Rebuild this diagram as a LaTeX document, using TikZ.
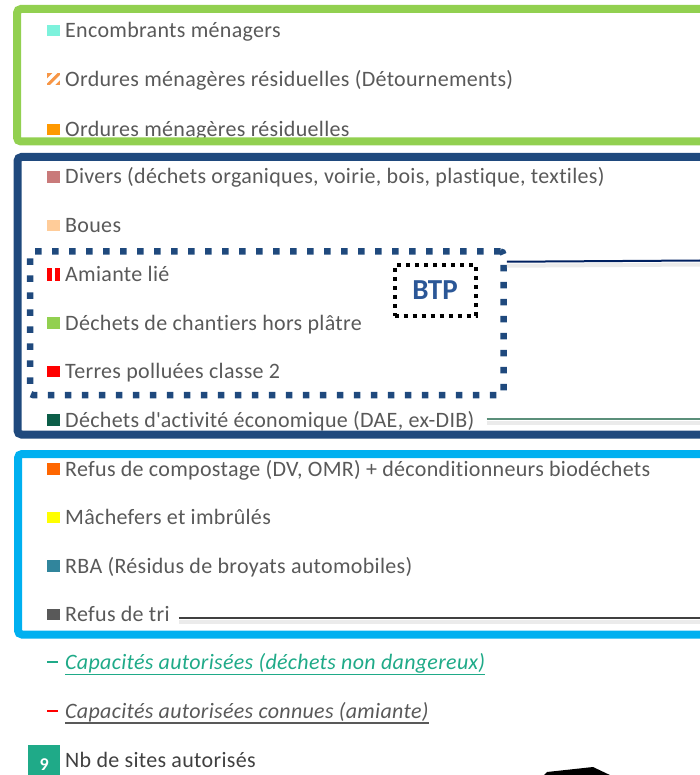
\documentclass[tikz,border=0pt]{standalone}
\usepackage{fontspec}
\setmainfont{Carlito}
\newfontfamily\itemfont[LetterSpace=1.4, Ligatures={NoCommon}]{Carlito}
\usetikzlibrary{positioning, arrows.meta}

\definecolor{txtgray}{HTML}{595959}
\definecolor{greenbox}{HTML}{92D050}
\definecolor{darkbox}{HTML}{1F497D}
\definecolor{cyanbox}{HTML}{00B0F0}
\definecolor{encomb}{HTML}{7DF2DC}
\definecolor{ordhatch}{HTML}{F79646}
\definecolor{ordure}{HTML}{FF9900}
\definecolor{divers}{HTML}{C97A7A}
\definecolor{boues}{HTML}{FFCC99}
\definecolor{chantier}{HTML}{92D050}
\definecolor{rouge}{HTML}{FF0000}
\definecolor{dae}{HTML}{0C5E48}
\definecolor{compost}{HTML}{FF6600}
\definecolor{machefer}{HTML}{FFFF00}
\definecolor{rba}{HTML}{31859C}
\definecolor{refus}{HTML}{595959}
\definecolor{navy}{HTML}{002060}
\definecolor{daeline}{HTML}{5B8F7A}
\definecolor{capgreen}{HTML}{1FAA88}
\definecolor{btpblue}{HTML}{2B5797}

\begin{document}
\begin{tikzpicture}[x=1pt, y=-1pt,
    item/.style={anchor=base west, inner sep=0pt, text=txtgray, font=\itemfont\fontsize{22}{26}\selectfont},
    swatch/.style={anchor=south east, minimum width=12.5pt, minimum height=11.5pt, inner sep=0pt},
    frame/.style={line width=8pt, rounded corners=4pt},
    shadowline/.style={line width=4pt, black!8},
    dashmark/.style={minimum width=11pt, minimum height=2.5pt, inner sep=0pt}]
        \clip (0,0) rectangle (700,775);

        % Items
        \node[swatch, fill=encomb] (s1) at (60,36.5) {};
        \node[item] (t1) at (65,37.5) {Encombrants ménagers};
        \node[swatch, fill=ordhatch] (s2) at (60,85.2) {};
        \begin{scope}
            \clip (s2.south west) rectangle (s2.north east);
            \draw[white, line width=3.4pt] ([shift={(-7.6,12.4)}]s2.center) -- ([shift={(12.4,-7.6)}]s2.center);
            \draw[white, line width=3.4pt] ([shift={(-12.4,7.6)}]s2.center) -- ([shift={(7.6,-12.4)}]s2.center);
        \end{scope}
        \node[item] (t2) at (65,86.2) {Ordures ménagères résiduelles (Détournements)};
        \node[swatch, fill=ordure] (s3) at (60,135.5) {};
        \node[item] (t3) at (65,136.5) {Ordures ménagères résiduelles};

        \node[swatch, fill=divers] (s4) at (60,183) {};
        \node[item] (t4) at (65,184) {Divers (déchets organiques, voirie, bois, plastique, textiles)};
        \node[swatch, fill=boues] (s5) at (60,231.5) {};
        \node[item] (t5) at (65,232.5) {Boues};
        \node[swatch, minimum height=12.5pt] (s6) at (60,281) {};
        \fill[rouge] (s6.south west) rectangle ([xshift=4.5pt]s6.north west);
        \fill[rouge] ([xshift=-5pt]s6.south east) rectangle (s6.north east);
        \node[item] (t6) at (65,281.5) {Amiante lié};
        \node[swatch, fill=chantier] (s7) at (60,329) {};
        \node[item] (t7) at (65,330) {Déchets de chantiers hors plâtre};
        \node[swatch, fill=rouge] (s8) at (60,377.5) {};
        \node[item] (t8) at (65,378.5) {Terres polluées classe 2};
        \node[swatch, fill=dae] (s9) at (60,426) {};
        \node[item] (t9) at (65,427) {Déchets d\textquotesingle activité économique (DAE, ex-DIB)};

        \node[swatch, fill=compost] (s10) at (60,475) {};
        \node[item] (t10) at (65,476) {Refus de compostage (DV, OMR) + déconditionneurs biodéchets};
        \node[swatch, fill=machefer] (s11) at (60,523.5) {};
        \node[item] (t11) at (65,524.5) {Mâchefers et imbrûlés};
        \node[swatch, fill=rba] (s12) at (60,572) {};
        \node[item] (t12) at (65,573) {RBA (Résidus de broyats automobiles)};
        \node[swatch, fill=refus] (s13) at (60,620.5) {};
        \node[item] (t13) at (65,621.5) {Refus de tri};

        % Legend
        \node[dashmark, fill=capgreen] (d1) at (52.5,662) {};
        \node[item, text=capgreen, font=\itemfont\fontsize{22}{26}\selectfont\itshape] (c1) at (65,669) {Capacités autorisées (déchets non dangereux)};
        \draw[capgreen, line width=1.2pt] ([yshift=-1.5pt]c1.south west) -- ([yshift=-1.5pt]c1.south east);
        \node[dashmark, fill=rouge] (d2) at (52.5,711) {};
        \node[item, font=\itemfont\fontsize{22}{26}\selectfont\itshape] (c2) at (65,718) {Capacités autorisées connues (amiante)};
        \draw[txtgray, line width=1.6pt] ([yshift=-1.5pt]c2.south west) -- ([yshift=-1.5pt]c2.south east);
        \node[fill=capgreen, minimum width=32pt, minimum height=38pt, inner sep=0pt, anchor=north west,
              text=white, font=\fontsize{18}{20}\selectfont\bfseries] (nb) at (28,745) {9};
        \node[item, text=black!75] (t14) at (65,767) {Nb de sites autorisés};
        \fill[black] (543,776) -- (547,772) -- (593,767) -- (612,776) -- cycle;

        % Boxes
        \draw[frame, greenbox] (17,9) rectangle (740,141.5);
        \draw[frame, darkbox] (17.5,157) rectangle (740,434.5);
        \draw[frame, cyanbox] (18,454) rectangle (740,634.5);
        \node[draw=darkbox, line width=6.5pt, dash pattern=on 6.5pt off 10.5pt, rounded corners=3pt,
              minimum width=473.5pt, minimum height=143.5pt, inner sep=0pt] (btpzone) at (266.75,323.25) {};
        \node[draw=black, line width=4pt, dash pattern=on 4pt off 5pt, minimum width=81pt, minimum height=51pt,
              inner sep=0pt, text=btpblue, font=\fontsize{29}{32}\selectfont\bfseries] (btp) at (435,290.5) {BTP};

        % Lines
        \coordinate (navyend) at (700,260.5);
        \coordinate (daeend) at (700,419);
        \coordinate (refusend) at (700,618);
        \draw[shadowline] ([shift={(0,17.5)}]btpzone.north east) -- ([shift={(0,4)}]navyend);
        \draw[navy, line width=2pt] ([yshift=-13.5pt]btpzone.north east) -- (navyend);
        \draw[shadowline] ([shift={(12,-4)}]t9.base east) -- ([shift={(0,4)}]daeend);
        \draw[daeline, line width=2pt] ([shift={(12,-8)}]t9.base east) -- (daeend);
        \draw[shadowline] ([shift={(9,0.5)}]t13.base east) -- ([shift={(0,4)}]refusend);
        \draw[black!75, line width=2pt] ([shift={(9,-3.5)}]t13.base east) -- (refusend);
\end{tikzpicture}
\end{document}
